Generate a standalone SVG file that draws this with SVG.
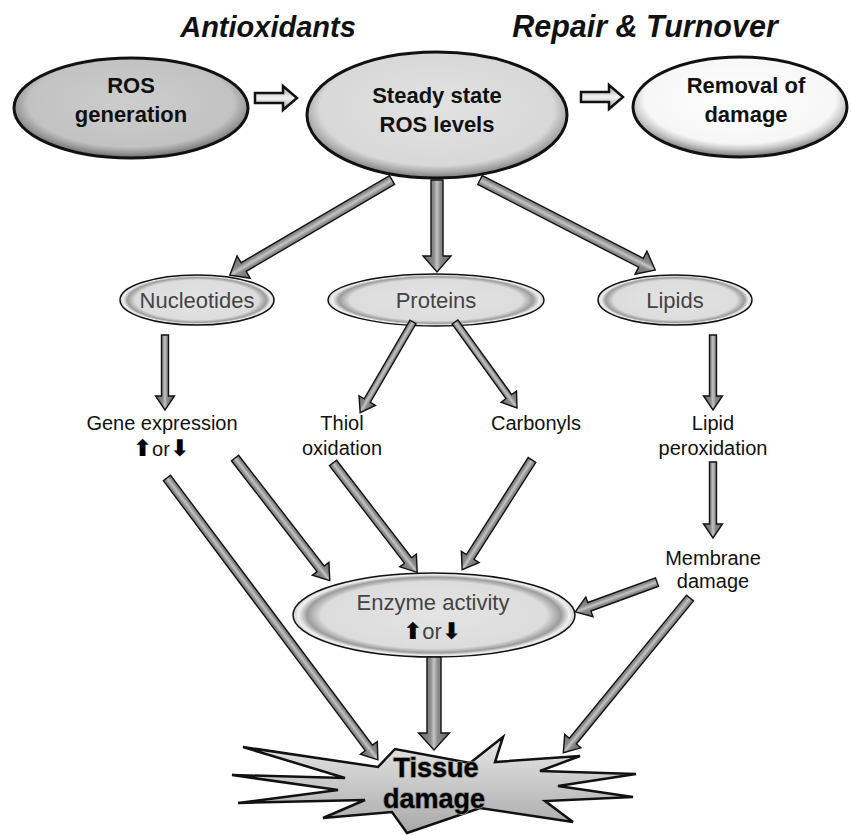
<svg xmlns="http://www.w3.org/2000/svg" width="851" height="835" viewBox="0 0 851 835">
<defs>
<style>
.title{font-family:"Liberation Sans",Arial,sans-serif;font-weight:bold;font-style:italic;font-size:29px;fill:#111;}
.big{font-family:"Liberation Sans",Arial,sans-serif;font-weight:bold;font-size:22px;fill:#111;}
.sm{font-family:"Liberation Sans",Arial,sans-serif;font-size:22px;fill:#444;}
.lbl{font-family:"Liberation Sans",Arial,sans-serif;font-size:20px;fill:#111;}
.ar{font-family:"DejaVu Sans",sans-serif;font-weight:bold;font-size:23px;fill:#000;}
.tis{font-family:"Liberation Sans",Arial,sans-serif;font-weight:bold;font-size:27px;fill:#000;stroke:#888;stroke-width:1.5;paint-order:stroke;}
.blk{fill:url(#gArrow);stroke:#111;stroke-width:1.4;stroke-linejoin:miter;}
.hol{fill:url(#gHol);stroke:#111;stroke-width:2.5;stroke-linejoin:miter;}
.bigE{stroke:#111;stroke-width:3;}
.smE{fill:url(#gSmall);stroke:#111;stroke-width:1.5;}
</style>
<linearGradient id="gArrow" x1="0" y1="0" x2="0" y2="1">
<stop offset="0" stop-color="#666"/>
<stop offset="0.38" stop-color="#8a8a8a"/>
<stop offset="0.5" stop-color="#c4c4c4"/>
<stop offset="0.62" stop-color="#8a8a8a"/>
<stop offset="1" stop-color="#666"/>
</linearGradient>
<linearGradient id="gHol" x1="0" y1="0" x2="0" y2="1">
<stop offset="0" stop-color="#999"/>
<stop offset="0.5" stop-color="#f2f2f2"/>
<stop offset="1" stop-color="#999"/>
</linearGradient>
<radialGradient id="gRos" cx="0.5" cy="0.45" r="0.55">
<stop offset="0" stop-color="#cdcdcd"/>
<stop offset="0.8" stop-color="#c2c2c2"/>
<stop offset="0.9" stop-color="#9a9a9a"/>
<stop offset="1" stop-color="#6a6a6a"/>
</radialGradient>
<radialGradient id="gSteady" cx="0.5" cy="0.45" r="0.55">
<stop offset="0" stop-color="#e2e2e2"/>
<stop offset="0.82" stop-color="#d8d8d8"/>
<stop offset="0.92" stop-color="#a8a8a8"/>
<stop offset="1" stop-color="#7a7a7a"/>
</radialGradient>
<radialGradient id="gRem" cx="0.5" cy="0.42" r="0.56">
<stop offset="0" stop-color="#ffffff"/>
<stop offset="0.8" stop-color="#f6f6f6"/>
<stop offset="0.9" stop-color="#c8c8c8"/>
<stop offset="1" stop-color="#888"/>
</radialGradient>
<radialGradient id="gSmall" cx="0.5" cy="0.5" r="0.5">
<stop offset="0" stop-color="#e4e4e4"/>
<stop offset="0.8" stop-color="#dcdcdc"/>
<stop offset="0.9" stop-color="#9c9c9c"/>
<stop offset="0.96" stop-color="#f0f0f0"/>
<stop offset="1" stop-color="#cfcfcf"/>
</radialGradient>
<linearGradient id="gStar" x1="0" y1="0" x2="0" y2="1">
<stop offset="0" stop-color="#e8e8e8"/>
<stop offset="0.5" stop-color="#c8c8c8"/>
<stop offset="1" stop-color="#a8a8a8"/>
</linearGradient>
</defs>
<rect width="851" height="835" fill="#fff"/>

<g id="titles">
<text class="title" x="268" y="37" text-anchor="middle">Antioxidants</text>
<text class="title" x="645" y="37" text-anchor="middle" style="font-size:30.5px">Repair &amp; Turnover</text>
</g>

<g id="node-ros">
<ellipse class="bigE" cx="131" cy="108" rx="117" ry="50" fill="url(#gRos)"/>
<text class="big" x="131" y="93" text-anchor="middle">ROS</text>
<text class="big" x="131" y="122" text-anchor="middle">generation</text>
</g>
<g id="node-steady">
<ellipse class="bigE" cx="437" cy="115" rx="130" ry="63" fill="url(#gSteady)"/>
<text class="big" x="437" y="103" text-anchor="middle">Steady state</text>
<text class="big" x="437" y="132" text-anchor="middle">ROS levels</text>
</g>
<g id="node-removal">
<ellipse class="bigE" cx="740" cy="107" rx="107" ry="50" fill="url(#gRem)"/>
<text class="big" x="746" y="93" text-anchor="middle">Removal of</text>
<text class="big" x="746" y="122" text-anchor="middle">damage</text>
</g>

<g id="node-nucleotides">
<ellipse class="smE" cx="197" cy="300" rx="77" ry="25"/>
<text class="sm" x="197" y="308" text-anchor="middle">Nucleotides</text>
</g>
<g id="node-proteins">
<ellipse class="smE" cx="436" cy="300" rx="108" ry="26"/>
<text class="sm" x="436" y="308" text-anchor="middle">Proteins</text>
</g>
<g id="node-lipids">
<ellipse class="smE" cx="675" cy="300" rx="77" ry="25"/>
<text class="sm" x="675" y="308" text-anchor="middle">Lipids</text>
</g>

<g id="node-gene">
<text class="lbl" x="162" y="430" text-anchor="middle">Gene expression</text>
<text class="lbl" x="161" y="456" text-anchor="middle"><tspan class="ar">⬆</tspan>or<tspan class="ar">⬇</tspan></text>
</g>
<g id="node-thiol">
<text class="lbl" x="342" y="430" text-anchor="middle">Thiol</text>
<text class="lbl" x="342" y="455" text-anchor="middle">oxidation</text>
</g>
<g id="node-carbonyls">
<text class="lbl" x="536" y="430" text-anchor="middle">Carbonyls</text>
</g>
<g id="node-lipidperox">
<text class="lbl" x="713" y="430" text-anchor="middle">Lipid</text>
<text class="lbl" x="713" y="455" text-anchor="middle">peroxidation</text>
</g>
<g id="node-membrane">
<text class="lbl" x="713" y="565" text-anchor="middle">Membrane</text>
<text class="lbl" x="713" y="588" text-anchor="middle">damage</text>
</g>

<g id="node-enzyme">
<ellipse class="smE" cx="434" cy="615" rx="141" ry="42"/>
<text class="sm" x="433" y="610" text-anchor="middle">Enzyme activity</text>
<text class="sm" x="432" y="639" text-anchor="middle"><tspan class="ar">⬆</tspan>or<tspan class="ar">⬇</tspan></text>
</g>

<g id="node-tissue">
<path d="M243,747 L378,767 L395,749 L470,763 L503,737 L495,762 L580,756 L540,771 L636,774 L558,786 L633,797 L545,801 L573,822 L480,808 L407,833 L392,812 L323,818 L365,800 L238,803 L338,790 L232,775 L345,778 Z" fill="url(#gStar)" stroke="#111" stroke-width="2.5" stroke-linejoin="miter"/>
<text class="tis" x="436" y="777" text-anchor="middle">Tissue</text>
<text class="tis" x="434" y="808" text-anchor="middle">damage</text>
</g>

<g id="connectors">
<path class="hol" d="M255,93 L283,93 L283,86 L297,98 L283,110 L283,103 L255,103 Z"/>
<path class="hol" d="M581,92 L609,92 L609,85 L623,97 L609,109 L609,102 L581,102 Z"/>

<path class="blk" transform="translate(392,180) rotate(149.6)" d="M0,-5 L172,-5 L172,-13 L188,0 L172,13 L172,5 L0,5 Z"/>
<path class="blk" transform="translate(437,180) rotate(90)" d="M0,-6 L76,-6 L76,-14 L92,0 L76,14 L76,6 L0,6 Z"/>
<path class="blk" transform="translate(480,180) rotate(27.2)" d="M0,-5 L181,-5 L181,-13 L197,0 L181,13 L181,5 L0,5 Z"/>

<path class="blk" transform="translate(165,335) rotate(90)" d="M0,-3.5 L61,-3.5 L61,-9.5 L75,0 L61,9.5 L61,3.5 L0,3.5 Z"/>
<path class="blk" transform="translate(413,322) rotate(120.2)" d="M0,-3.5 L91,-3.5 L91,-9.5 L105,0 L91,9.5 L91,3.5 L0,3.5 Z"/>
<path class="blk" transform="translate(455,322) rotate(54.2)" d="M0,-3.5 L92,-3.5 L92,-9.5 L106,0 L92,9.5 L92,3.5 L0,3.5 Z"/>
<path class="blk" transform="translate(713,335) rotate(90)" d="M0,-3.5 L61,-3.5 L61,-9.5 L75,0 L61,9.5 L61,3.5 L0,3.5 Z"/>
<path class="blk" transform="translate(713,462) rotate(90)" d="M0,-3.5 L62,-3.5 L62,-9.5 L76,0 L62,9.5 L62,3.5 L0,3.5 Z"/>

<path class="blk" transform="translate(235,458) rotate(52.3)" d="M0,-4.5 L140,-4.5 L140,-10.5 L155,0 L140,10.5 L140,4.5 L0,4.5 Z"/>
<path class="blk" transform="translate(333,463) rotate(52.4)" d="M0,-4.5 L123,-4.5 L123,-10.5 L138,0 L123,10.5 L123,4.5 L0,4.5 Z"/>
<path class="blk" transform="translate(532,460) rotate(122.5)" d="M0,-4.5 L115,-4.5 L115,-10.5 L130,0 L115,10.5 L115,4.5 L0,4.5 Z"/>
<path class="blk" transform="translate(657,582) rotate(159.9)" d="M0,-4.5 L72,-4.5 L72,-10.5 L87,0 L72,10.5 L72,4.5 L0,4.5 Z"/>
<path class="blk" transform="translate(167,478) rotate(53.2)" d="M0,-4.5 L337,-4.5 L337,-10.5 L352,0 L337,10.5 L337,4.5 L0,4.5 Z"/>
<path class="blk" transform="translate(690,598) rotate(129.3)" d="M0,-4.5 L185,-4.5 L185,-10.5 L200,0 L185,10.5 L185,4.5 L0,4.5 Z"/>

<path class="blk" transform="translate(434,657) rotate(90)" d="M0,-7 L76,-7 L76,-15.5 L93,0 L76,15.5 L76,7 L0,7 Z"/>
</g>
</svg>
